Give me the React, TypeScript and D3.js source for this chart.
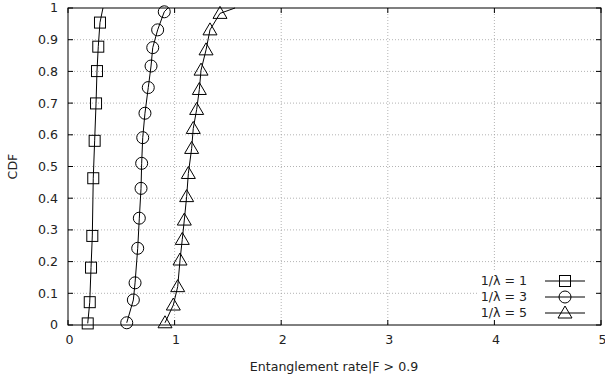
import React from 'react';
import * as d3 from 'd3';

const xTicks = [0, 1, 2, 3, 4, 5];
const yTicks = [0, 0.1, 0.2, 0.3, 0.4, 0.5, 0.6, 0.7, 0.8, 0.9, 1];
const yTickLabels = ['0', '0.1', '0.2', '0.3', '0.4', '0.5', '0.6', '0.7', '0.8', '0.9', '1'];

const seriesNames = ['1/λ = 1', '1/λ = 3', '1/λ = 5'];

const sqX = [0.185, 0.204, 0.216, 0.228, 0.237, 0.25, 0.263, 0.272, 0.284, 0.3];
const sqY = [0.005, 0.072, 0.181, 0.281, 0.463, 0.581, 0.699, 0.801, 0.878, 0.954];
const sqEnd = [0.328, 1];

const ciX = [0.551, 0.613, 0.629, 0.654, 0.669, 0.685, 0.691, 0.701, 0.722, 0.753, 0.779, 0.795, 0.841, 0.903];
const ciY = [0.007, 0.079, 0.133, 0.242, 0.337, 0.431, 0.51, 0.591, 0.668, 0.749, 0.817, 0.875, 0.931, 0.988];
const ciEnd = [0.938, 1];

const trX = [0.91, 0.988, 1.029, 1.051, 1.072, 1.091, 1.113, 1.129, 1.16, 1.175, 1.207, 1.232, 1.248, 1.295, 1.332, 1.426];
const trY = [0.007, 0.063, 0.121, 0.205, 0.27, 0.331, 0.405, 0.478, 0.557, 0.62, 0.68, 0.743, 0.804, 0.868, 0.931, 0.983];
const trEnd = [1.567, 1];

const W = 605, H = 378;
const L = 68, R = 601, T = 8, B = 325;
const FONT = 'DejaVu Sans, sans-serif';
const FS = 12.6;

type Shape = 'square' | 'circle' | 'triangle';

function Marker({ shape, cx, cy }: { shape: Shape; cx: number; cy: number }) {
  const st = { fill: 'none', stroke: '#000', strokeWidth: 1 };
  if (shape === 'square') return <rect x={cx - 5.5} y={cy - 5.5} width={11} height={11} {...st} />;
  if (shape === 'circle') return <circle cx={cx} cy={cy} r={6} {...st} />;
  return <path d={`M${cx},${cy - 7}L${cx + 7},${cy + 5}L${cx - 7},${cy + 5}Z`} {...st} />;
}

export default function App() {
  const x = d3.scaleLinear().domain([0, 5]).range([L, R]);
  const y = d3.scaleLinear().domain([0, 1]).range([B, T]);
  const line = d3.line<number[]>().x(d => x(d[0])).y(d => y(d[1]));

  const series: { xs: number[]; ys: number[]; end: number[]; shape: Shape }[] = [
    { xs: sqX, ys: sqY, end: sqEnd, shape: 'square' },
    { xs: ciX, ys: ciY, end: ciEnd, shape: 'circle' },
    { xs: trX, ys: trY, end: trEnd, shape: 'triangle' },
  ];

  const legendY = [281, 297, 313];

  return (
    <svg width={W} height={H} style={{ position: 'absolute', left: 0, top: 0, background: '#fff' }}
      fontFamily={FONT}>
      <rect x={0} y={0} width={W} height={H} fill="#fff" />
      {/* grid */}
      {yTicks.slice(1, -1).map((t, i) => (
        <line key={'gy' + i} x1={L} x2={R} y1={y(t)} y2={y(t)} stroke="#a0a0a0" strokeWidth={0.8} strokeDasharray="1,2" />
      ))}
      {xTicks.slice(1, -1).map((t, i) => (
        <line key={'gx' + i} x1={x(t)} x2={x(t)} y1={T} y2={B} stroke="#a0a0a0" strokeWidth={0.8} strokeDasharray="1,2" />
      ))}
      {/* legend background */}
      <rect x={478} y={272} width={119} height={50} fill="#fff" />
      {/* ticks */}
      {yTicks.map((t, i) => (
        <g key={'ty' + i}>
          <line x1={L} x2={L + 5} y1={y(t)} y2={y(t)} stroke="#000" />
          <line x1={R} x2={R - 5} y1={y(t)} y2={y(t)} stroke="#000" />
          <text x={58} y={y(t)} dy="0.35em" textAnchor="end" fontSize={FS} fill="#222">{yTickLabels[i]}</text>
        </g>
      ))}
      {xTicks.map((t, i) => (
        <g key={'tx' + i}>
          <line x1={x(t)} x2={x(t)} y1={B} y2={B - 5} stroke="#000" />
          <line x1={x(t)} x2={x(t)} y1={T} y2={T + 5} stroke="#000" />
          <text x={x(t) + 1.5} y={344} textAnchor="middle" fontSize={FS} fill="#222">{String(t)}</text>
        </g>
      ))}
      {/* border */}
      <rect x={L} y={T} width={R - L} height={B - T} fill="none" stroke="#000" strokeWidth={1} />
      {/* axis labels */}
      <text x={334} y={371} textAnchor="middle" fontSize={FS} fill="#222">Entanglement rate|F &gt; 0.9</text>
      <text transform={`translate(17,${(T + B) / 2}) rotate(-90)`} textAnchor="middle" fontSize={FS} fill="#222">CDF</text>
      {/* series */}
      {series.map((s, si) => {
        const pts = s.xs.map((v, i) => [v, s.ys[i]]).concat([s.end]);
        return (
          <g key={'s' + si}>
            <path d={line(pts) || ''} fill="none" stroke="#000" strokeWidth={1} />
            {s.xs.map((v, i) => <Marker key={i} shape={s.shape} cx={x(v)} cy={y(s.ys[i])} />)}
          </g>
        );
      })}
      {/* legend */}
      {seriesNames.map((n, i) => (
        <g key={'lg' + i}>
          <text x={527} y={legendY[i]} dy="0.35em" textAnchor="end" fontSize={FS} fill="#222">{n}</text>
          <line x1={545} x2={585} y1={legendY[i]} y2={legendY[i]} stroke="#000" />
          <Marker shape={series[i].shape} cx={565} cy={legendY[i]} />
        </g>
      ))}
    </svg>
  );
}
